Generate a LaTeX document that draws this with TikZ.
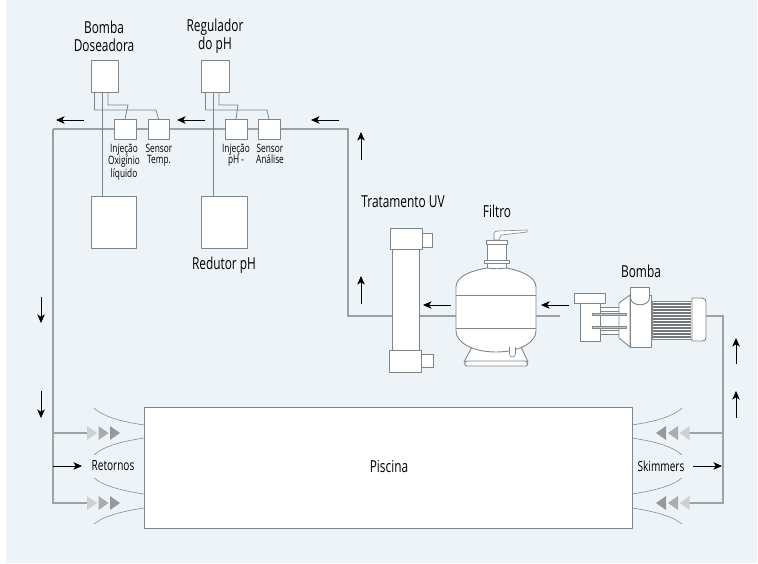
\documentclass[tikz,border=0pt]{standalone}
\usepackage{fontspec}
\setmainfont[FakeStretch=0.72]{Open Sans}
\usetikzlibrary{arrows.meta,positioning,calc}
\definecolor{bgc}{HTML}{EDF3F7}
\definecolor{linec}{HTML}{808688}
\definecolor{pipec}{HTML}{9DA2A4}
\definecolor{tri1}{HTML}{CDD1D3}
\definecolor{tri2}{HTML}{A9ADAF}
\definecolor{tri3}{HTML}{96999B}
\tikzset{
  x=1pt,y=-1pt,
  pipe/.style={draw=pipec,line width=1.1pt},
  wire/.style={draw=linec,line width=0.8pt},
  part/.style={draw=linec,fill=white,line width=0.9pt,line join=round},
  flow/.style={black,line width=0.8pt,-{Stealth[length=8.5pt,width=7.5pt,inset=2.2pt]}},
  curve/.style={draw=linec,line width=0.55pt},
  boxn/.style={part,inner sep=0pt,outer sep=0pt,anchor=north west},
  lab/.style={font=\fontsize{16.5}{18}\selectfont,align=center,text=black,inner sep=0pt},
  labs/.style={font=\fontsize{14}{16}\selectfont,align=center,text=black,inner sep=0pt},
  sm/.style={font=\fontsize{11.5}{11}\selectfont,align=center,text=black,inner sep=0pt,anchor=north},
}
\newcommand{\boxat}[5]{\node[boxn,minimum width=#4pt,minimum height=#5pt] (#1) at (#2,#3) {};}
\begin{document}
\begin{tikzpicture}
\useasboundingbox (0,0) rectangle (758,563);
\fill[white] (0,0) rectangle (758,563);
\fill[bgc] (6,0) rectangle (757,563);
% main pipe
\coordinate (pa) at (348,129);
\coordinate (pb) at (348,316);
\coordinate (pc) at (53,129);
\coordinate (pd) at (53,503);
\coordinate (pe) at (723,316);
\coordinate (pf) at (723,503);
\coordinate (l1) at (87,433);
\coordinate (l3) at (87,503);
\coordinate (l2) at (53,433);
\coordinate (r1) at (689,433);
\coordinate (r2) at (723,433);
\coordinate (r3) at (689,503);
\draw[pipe] (pc) -- (pa) -- (pb) -- (560,316);
\draw[pipe] (pc) -- (pd) -- (l3);
\draw[pipe] (l2) -- (l1);
\draw[pipe] (700,316) -- (pe) -- (pf) -- (r3);
\draw[pipe] (r2) -- (r1);
% controllers
\boxat{bd}{91}{60}{27}{32}
\boxat{rp}{201}{60}{28}{32}
\boxat{i1}{114}{119}{22}{20}
\boxat{s1}{148}{119}{21}{20}
\boxat{i2}{225}{119}{22}{20}
\boxat{s2}{258}{119}{22}{20}
\boxat{t1}{91}{196}{45}{52}
\boxat{t2}{201}{196}{46}{52}
% wires
\draw[wire] (bd.south west)++(3.5,0) |- (156,110) -- (s1.north);
\draw[wire] (bd.south west)++(17,0) |- (128,105) -- (i1.north);
\draw[wire] (102,92) -- (102,196);
\draw[wire] (rp.south west)++(4.5,0) |- (267,110) -- (s2.north);
\draw[wire] (rp.south west)++(18,0) |- (238,105) -- (i2.north);
\draw[wire] (213,92) -- (213,196);
% labels
\node[lab] (lbd) at (104,36.5) {Bomba\\Doseadora};
\node[lab] (lrp) at (215,36.5) {Regulador\\do pH};
\node[lab] (lr) at (224,265) {Redutor pH};
\node[sm] at (124,143.5) {Injeção\\Oxigínio\\líquido};
\node[sm] at (159,143.5) {Sensor\\Temp.};
\node[sm] at (236,143.5) {Injeção\\pH -};
\node[sm] at (270,143.5) {Sensor\\Análise};
\node[lab] at (403,202) {Tratamento UV};
\node[lab] at (497,211) {Filtro};
\node[lab] at (641,271) {Bomba};
% UV
\boxat{uvt}{392}{249}{27}{101}
\boxat{uvc1}{390}{228}{32}{21}
\boxat{uvs1}{422}{233}{10}{14}
\boxat{uvc2}{389}{350}{32}{22}
\boxat{uvs2}{421}{354}{12}{13}
% Filter
\draw[part] (472,347) -- (464,362) -- (528,362) -- (521,347) -- cycle;
\draw[part] (467,361) -- (526,361) .. controls (528,362) and (528,366) .. (526,366) -- (467,366) .. controls (464,366) and (464,362) .. (467,361) -- cycle;
\draw[part] (487,243) rectangle (506,271);
\draw[part] (484,260) rectangle (509,263);
\draw[part] (486,240.5) rectangle (507.5,244.5);
\draw[part,line width=0.6pt] (494,240) -- (494,233) .. controls (494,232) and (496,231) .. (498,231) -- (527,230) -- (527,232) -- (501,235) -- (499,240) -- cycle;
\path[part] (456,287) .. controls (456,275) and (475,270) .. (487,268) .. controls (495,269) and (499,269) .. (506,268) .. controls (520,270) and (536,277) .. (536,287) -- (536,331) .. controls (536,342) and (520,352) .. (496,352) .. controls (472,352) and (456,342) .. (456,331) -- cycle;
\draw[linec,line width=0.9pt] (456,295.5) -- (536,295.5);
\draw[linec,line width=0.9pt] (456,328.5) -- (536,328.5);
\draw[part,line width=0.6pt] (509.5,347) -- (509.5,354) .. controls (510,358) and (515,358) .. (515.5,354) -- (515.5,347);
% Pump
\boxat{pb1}{580}{303}{20}{38}
\boxat{pb2}{574}{293}{31}{10}
\boxat{pb3}{600}{307}{19}{27}
\draw[linec,line width=0.6pt] (600,311) -- (619,311);
\draw[linec,line width=0.6pt] (600,330) -- (619,330);
\draw[part] (619,303) -- (630,295) -- (630,347) -- (619,338) -- cycle;
\boxat{pm}{630}{295}{21}{52}
\draw[part] (630.5,287.5) -- (649.5,287.5) -- (649.5,298) .. controls (649,307) and (631,307) .. (630.5,298) -- cycle;
\draw[part] (652,301) rectangle (692,339);
\foreach \yy in {304,307,...,337} {\draw[linec!90!black,line width=1.6pt] (653,\yy) -- (691,\yy);}
\draw[part] (692,298) -- (702,298) .. controls (705,298) and (706,300) .. (706,302) -- (706,337) .. controls (706,340) and (705,341) .. (702,341) -- (692,341) -- cycle;
\draw[part,fill=bgc!60!linec,line width=0.5pt] (592,313.5) rectangle (626,315.5);
\draw[part,fill=bgc!60!linec,line width=0.5pt] (592,326.5) rectangle (626,328.5);
% Pool
\boxat{pool}{144}{407}{488}{121}
\node[lab] at (389,467) {Piscina};
\node[labs] (ret) at (113,466) {Retornos};
\node[labs] (ski) at (661,466) {Skimmers};
% Left curves
\foreach \ya/\yb/\sg in {425/408/1,438/455/-1,494/478/1,508/524/-1}{
 \draw[curve] (144,\ya) .. controls (125,\ya-\sg*3) and (105,\ya-\sg*7) .. (94,\yb);
 \draw[curve] (632,\ya) .. controls (651,\ya-\sg*3) and (671,\ya-\sg*7) .. (682,\yb);
}
% Triangles
\foreach \yc in {433,503}{
 \fill[tri1] (87,\yc-7) -- (97,\yc) -- (87,\yc+7) -- cycle;
 \fill[tri2] (98.5,\yc-7) -- (108.5,\yc) -- (98.5,\yc+7) -- cycle;
 \fill[tri3] (110,\yc-7) -- (120,\yc) -- (110,\yc+7) -- cycle;
 \fill[tri1] (689.5,\yc-7) -- (679.5,\yc) -- (689.5,\yc+7) -- cycle;
 \fill[tri2] (678,\yc-7) -- (668,\yc) -- (678,\yc+7) -- cycle;
 \fill[tri3] (666,\yc-7) -- (656,\yc) -- (666,\yc+7) -- cycle;
}
% Flow arrows
\draw[flow] (84,120) -- (56,120);
\draw[flow] (205,120) -- (177,120);
\draw[flow] (339,120) -- (311,120);
\draw[flow] (361,160) -- (361,132);
\draw[flow] (361,304) -- (361,276);
\draw[flow] (451,305) -- (423,305);
\draw[flow] (569,305) -- (541,305);
\draw[flow] (41,297) -- (41,323);
\draw[flow] (41,391) -- (41,418);
\draw[flow] (53,466) -- (82,466);
\draw[flow] (693,466) -- (722,466);
\draw[flow] (736,364) -- (736,338);
\draw[flow] (736,418) -- (736,391);
\end{tikzpicture}
\end{document}
